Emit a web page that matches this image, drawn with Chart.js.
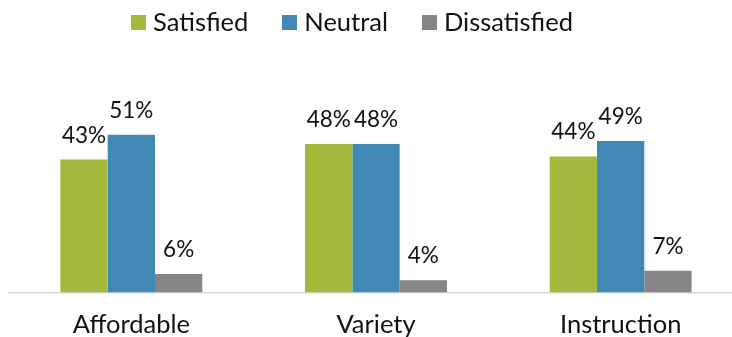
<!DOCTYPE html>
<html>
<head>
<meta charset="utf-8">
<script src="https://cdn.jsdelivr.net/npm/chart.js@4"></script>
<style>
  html, body { margin: 0; padding: 0; background: #fff; overflow: hidden; }
  #wrap { position: relative; width: 750px; height: 337px; overflow: hidden; }
  #legend {
    position: absolute; top: 6px; left: 0; width: 704px;
    display: flex; justify-content: center; align-items: center;
    font-family: Lato, "Open Sans", sans-serif; font-size: 25.5px; color: #111;
  }
  .item { display: flex; align-items: center; margin: 0 17px; }
  .swatch { width: 15px; height: 15px; margin-right: 7px; margin-top: 2px; }
  canvas { position: absolute; left: 0; top: 0; }
</style>
</head>
<body>
<div id="wrap">
  <canvas id="c" width="750" height="337"></canvas>
  <div id="legend"></div>
</div>
<script>
const categories = ['Affordable', 'Variety', 'Instruction'];
const seriesNames = ['Satisfied', 'Neutral', 'Dissatisfied'];
const satisfied = [43, 48, 44];
const neutral = [51, 48, 49];
const dissatisfied = [6, 4, 7];
const colors = ['#a6b83b', '#3f89b4', '#858585'];

const FONT = 'Lato, "Open Sans", sans-serif';

// Percent labels above each bar
const valueLabels = {
  id: 'valueLabels',
  afterDatasetsDraw(chart) {
    const ctx = chart.ctx;
    ctx.save();
    ctx.font = '22.5px ' + FONT;
    ctx.fillStyle = '#111';
    ctx.textAlign = 'center';
    ctx.textBaseline = 'alphabetic';
    chart.data.datasets.forEach((ds, i) => {
      const meta = chart.getDatasetMeta(i);
      meta.data.forEach((bar, j) => {
        ctx.fillText(ds.data[j] + '%', bar.x, bar.y - 17);
      });
    });
    ctx.restore();
  }
};

const chart = new Chart(document.getElementById('c'), {
  type: 'bar',
  data: {
    labels: categories,
    datasets: [
      { label: seriesNames[0], data: satisfied, backgroundColor: colors[0] },
      { label: seriesNames[1], data: neutral, backgroundColor: colors[1] },
      { label: seriesNames[2], data: dissatisfied, backgroundColor: colors[2] }
    ]
  },
  options: {
    responsive: false,
    animation: false,
    devicePixelRatio: 1,
    layout: { padding: { top: 107, left: 9, right: 7, bottom: 0 } },
    datasets: { bar: { barPercentage: 1, categoryPercentage: 0.58, borderWidth: 0 } },
    plugins: { legend: { display: false }, tooltip: { enabled: false } },
    scales: {
      x: {
        grid: { display: false },
        border: { display: true, color: '#d9d9d9', width: 1.5 },
        ticks: { color: '#111', padding: 9, font: { family: FONT, size: 25.5 } },
        afterFit(scale) { scale.height = 44.5; }
      },
      y: { display: false, min: 0, max: 60 }
    }
  },
  plugins: [valueLabels]
});

// Legend built from the chart's datasets
const legend = document.getElementById('legend');
chart.data.datasets.forEach(ds => {
  const item = document.createElement('div');
  item.className = 'item';
  const sw = document.createElement('span');
  sw.className = 'swatch';
  sw.style.background = ds.backgroundColor;
  const txt = document.createElement('span');
  txt.textContent = ds.label;
  item.appendChild(sw);
  item.appendChild(txt);
  legend.appendChild(item);
});
</script>
</body>
</html>
